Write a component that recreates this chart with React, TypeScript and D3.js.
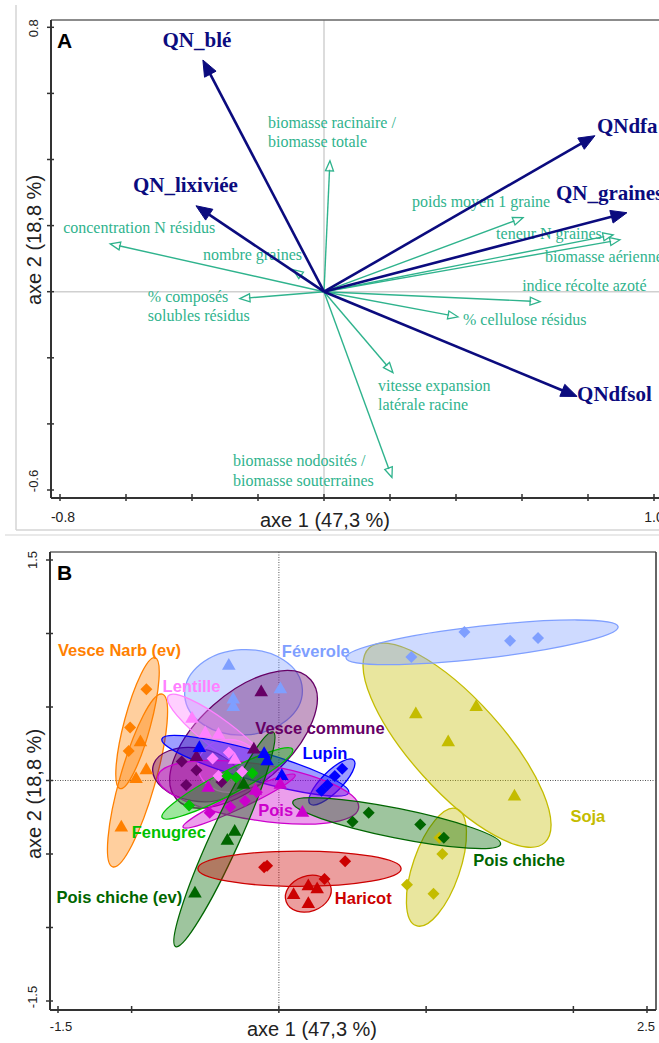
import * as d3 from 'd3';

// ---------- Panel A : variable loadings on axes 1 / 2 ----------
const mainVars = ['QN_blé', 'QN_lixiviée', 'QNdfa', 'QN_graines', 'QNdfsol'];
const mainX = [-0.367, -0.388, 0.821, 0.918, 0.767];
const mainY = [0.701, 0.26, 0.472, 0.239, -0.317];

const suppVars = [
  ['concentration N résidus'],
  ['nombre graines'],
  ['% composés', 'solubles résidus'],
  ['biomasse racinaire /', 'biomasse totale'],
  ['poids moyen 1 graine'],
  ['teneur N graines'],
  ['biomasse aérienne'],
  ['indice récolte azoté'],
  ['% cellulose résidus'],
  ['vitesse expansion', 'latérale racine'],
  ['biomasse nodosités /', 'biomasse souterraines'],
];
const suppX = [-0.648, -0.094, -0.255, 0.018, 0.603, 0.876, 0.897, 0.655, 0.406, 0.209, 0.206];
const suppY = [0.145, 0.067, -0.021, 0.396, 0.224, 0.172, 0.157, -0.03, -0.076, -0.245, -0.562];

const ticksA_x = d3.range(-0.8, 1.01, 0.2);
const ticksA_y = d3.range(-0.6, 0.81, 0.2);

// label placement (px offsets from arrow tip)
const mainLabelOff: [number, number, string][] = [
  [-6, -13, 'middle'], [-63, -14, 'start'], [2, -3, 'start'], [-71, -13, 'start'], [0, 5, 'start'],
];
const suppLabelOff: [number, number][] = [
  [-47, -11], [-90, -10], [-92, 3], [-62, -33], [-111, -11], [-117, 4],
  [-75, 22], [-18, -11], [5, 8], [-15, 18], [-159, -11],
];

// ---------- Panel B : individuals by species ----------
const classNames = ['Féverole', 'Soja', 'Vesce Narb (ev)', 'Vesce commune', 'Lentille', 'Lupin',
  'Pois', 'Fenugrec', 'Pois chiche (ev)', 'Pois chiche', 'Haricot'];
const classColors = ['#7f9fff', '#c4bc00', '#ff8000', '#660066', '#ff80ff', '#0000ff',
  '#cc00cc', '#00c000', '#006600', '#006600', '#cc0000'];

const feveroleTri = [[-0.34, 0.78], [-0.31, 0.55], [-0.31, 0.5], [0.01, 0.62]];
const feveroleDia = [[0.9, 0.84], [1.26, 1.01], [1.57, 0.95], [1.76, 0.97]];
const sojaTri = [[0.93, 0.45], [1.34, 0.5], [1.15, 0.26], [1.6, -0.11]];
const sojaDia = [[1.09, -0.39], [1.11, -0.5], [0.87, -0.71], [1.05, -0.77]];
const narbTri = [[-0.94, 0.26], [-0.9, 0.07], [-0.97, 0.01], [-1.07, -0.32]];
const narbDia = [[-0.9, 0.62], [-1.01, 0.36], [-1.02, 0.2]];
const communeTri = [[-0.12, 0.6], [-0.17, 0.21], [-0.56, 0.16]];
const communeDia = [[-0.66, 0.13], [-0.56, 0.07], [-0.63, -0.03], [-0.39, -0.01]];
const lentilleTri = [[-0.59, 0.42], [-0.5, 0.32], [-0.41, 0.31], [-0.3, 0.14]];
const lentilleDia = [[-0.45, 0.15], [-0.34, 0.19], [-0.41, 0.03], [-0.25, 0.06]];
const lupinTri = [[-0.54, 0.22], [-0.1, 0.18], [-0.08, 0.13], [0.02, 0.03]];
const lupinDia = [[0.43, 0.08], [0.38, 0.03], [0.33, -0.03], [0.29, -0.07]];
const poisTri = [[-0.48, -0.05], [-0.16, -0.07], [0.01, -0.03], [0.16, -0.22]];
const poisDia = [[-0.47, -0.22], [-0.33, -0.18], [-0.23, -0.14], [-0.15, -0.08]];
const fenugrecDia = [[-0.61, -0.17], [-0.35, 0.03], [-0.29, 0.02], [-0.18, 0.05]];
const chicheEvTri = [[-0.57, -0.77], [-0.35, -0.41], [-0.3, -0.35], [-0.24, -0.03]];
const chicheDia = [[0.5, -0.28], [0.61, -0.22], [0.96, -0.3], [1.12, -0.39]];
const haricotTri = [[0.1, -0.78], [0.2, -0.72], [0.26, -0.74], [0.2, -0.84]];
const haricotDia = [[-0.1, -0.59], [-0.08, -0.58], [0.45, -0.55], [0.31, -0.67]];

// [class, cx, cy, semi-axis a, semi-axis b, angle deg]
const ellipses: number[][] = [
  [0, -0.24, 0.6, 0.4, 0.29, 3],
  [1, 1.21, 0.24, 0.89, 0.31, -48],
  [0, 1.38, 0.94, 0.93, 0.11, 6.5],
  [1, 1.07, -0.59, 0.42, 0.16, 71],
  [2, -0.96, 0.39, 0.46, 0.09, 75],
  [2, -0.96, 0.0, 0.61, 0.12, 74],
  [3, -0.24, 0.28, 0.61, 0.31, 41.6],
  [3, -0.56, 0.04, 0.3, 0.18, -10],
  [4, -0.4, 0.31, 0.44, 0.1, -37],
  [4, -0.34, 0.1, 0.21, 0.18, 0],
  [5, -0.16, 0.1, 0.66, 0.1, -16],
  [5, 0.36, -0.01, 0.21, 0.07, 45],
  [6, -0.14, -0.08, 0.69, 0.19, -9],
  [6, -0.27, -0.14, 0.42, 0.05, 25],
  [7, -0.35, -0.02, 0.5, 0.08, 27.6],
  [8, -0.37, -0.4, 0.8, 0.1, 65.6],
  [9, 0.8, -0.29, 0.72, 0.1, -11.4],
  [10, 0.14, -0.6, 0.69, 0.12, 0],
  [10, 0.2, -0.77, 0.16, 0.12, 20],
];

const classPoints: [number, string, number[][]][] = [
  [0, 'tri', feveroleTri], [0, 'dia', feveroleDia],
  [1, 'tri', sojaTri], [1, 'dia', sojaDia],
  [2, 'tri', narbTri], [2, 'dia', narbDia],
  [3, 'tri', communeTri], [3, 'dia', communeDia],
  [4, 'tri', lentilleTri], [4, 'dia', lentilleDia],
  [5, 'tri', lupinTri], [5, 'dia', lupinDia],
  [6, 'tri', poisTri], [6, 'dia', poisDia],
  [7, 'dia', fenugrecDia],
  [8, 'tri', chicheEvTri],
  [9, 'dia', chicheDia],
  [10, 'tri', haricotTri], [10, 'dia', haricotDia],
];

// label anchors (data units, start of text / vertical centre)
const classLabelAt = [
  [0.02, 0.88], [1.98, -0.24], [-1.5, 0.89], [-0.16, 0.36], [-0.79, 0.64], [0.16, 0.19],
  [-0.14, -0.2], [-1.0, -0.35], [-1.51, -0.79], [1.32, -0.54], [0.38, -0.8],
];

const ticksB_x = [-1.5, -1, 0, 1, 2, 2.5];
const ticksB_y = d3.range(-1.5, 1.51, 0.5);

const SERIF = '"Liberation Serif", "Times New Roman", serif';
const SANS = '"Liberation Sans", Arial, sans-serif';
const NAVY = '#0b0b7e';
const TEAL = '#2fb38d';

function Arrow({ x1, y1, x2, y2, color, width, hl, hw, open }: any) {
  const dx = x2 - x1, dy = y2 - y1;
  const len = Math.hypot(dx, dy);
  const ux = dx / len, uy = dy / len;
  const bx = x2 - ux * hl, by = y2 - uy * hl;
  const nx = -uy, ny = ux;
  const pts = `${x2},${y2} ${bx + nx * hw / 2},${by + ny * hw / 2} ${bx - nx * hw / 2},${by - ny * hw / 2}`;
  return (
    <g>
      <line x1={x1} y1={y1} x2={bx + ux} y2={by + uy} stroke={color} strokeWidth={width} />
      <polygon points={pts} fill={open ? 'none' : color} stroke={color} strokeWidth={open ? 1.3 : 1} strokeLinejoin="miter" />
    </g>
  );
}

export default function App() {
  const xA = d3.scaleLinear().domain([-0.8, 1.0]).range([60, 654]);
  const yA = d3.scaleLinear().domain([-0.6, 0.8]).range([490, 27.3]);
  const xB = d3.scaleLinear().domain([-1.5, 2.5]).range([58, 647]);
  const yB = d3.scaleLinear().domain([-1.5, 1.5]).range([1001, 560]);
  const k = xB(1) - xB(0);
  const tri = d3.symbol(d3.symbolTriangle, 80)() as string;
  const sq = d3.symbol(d3.symbolSquare, 72)() as string;

  return (
    <svg width={659} height={1043} style={{ position: 'absolute', left: 0, top: 0, background: '#fff' }}>
      {/* ===== Panel A ===== */}
      <line x1={16} y1={5} x2={16} y2={530} stroke="#d4d4d4" strokeWidth={1.5} />
      <line x1={16} y1={530} x2={659} y2={530} stroke="#d4d4d4" strokeWidth={1.5} />
      <line x1={5} y1={535} x2={659} y2={535} stroke="#e2e2e2" strokeWidth={1.5} />

      <line x1={xA(0)} x2={xA(0)} y1={20} y2={498} stroke="#d0d0d0" strokeWidth={1.5} />
      <line x1={51} x2={659} y1={yA(0)} y2={yA(0)} stroke="#d0d0d0" strokeWidth={1.5} />
      <line x1={51} x2={659} y1={20} y2={20} stroke="#666" strokeWidth={1.5} />
      <line x1={51} x2={51} y1={20} y2={498} stroke="#333" strokeWidth={2} />
      <line x1={51} x2={659} y1={498} y2={498} stroke="#333" strokeWidth={2} />
      {ticksA_x.map((t, i) => (
        <line key={i} x1={xA(t)} x2={xA(t)} y1={494} y2={501} stroke="#333" strokeWidth={1.5} />
      ))}
      {ticksA_y.map((t, i) => (
        <line key={i} x1={47} x2={54} y1={yA(t)} y2={yA(t)} stroke="#333" strokeWidth={1.5} />
      ))}
      <text x={xA(-0.8) + 3} y={522} textAnchor="middle" fontFamily={SANS} fontSize={14} fill="#222">-0.8</text>
      <text x={xA(1.0)} y={522} textAnchor="middle" fontFamily={SANS} fontSize={14} fill="#222">1.0</text>
      <text x={325} y={527} textAnchor="middle" fontFamily={SANS} fontSize={20} fill="#222">axe 1 (47,3 %)</text>
      <text transform={`translate(38,${yA(0.8) + 1}) rotate(-90)`} textAnchor="middle" fontFamily={SANS} fontSize={13} fill="#222">0.8</text>
      <text transform={`translate(38,${yA(-0.6) - 9}) rotate(-90)`} textAnchor="middle" fontFamily={SANS} fontSize={13} fill="#222">-0.6</text>
      <text transform="translate(41,240) rotate(-90)" textAnchor="middle" fontFamily={SANS} fontSize={20} fill="#222">axe 2 (18,8 %)</text>
      <text x={57} y={48} fontFamily={SANS} fontSize={21} fontWeight="bold" fill="#000">A</text>

      {suppVars.map((lines, i) => {
        const tx = xA(suppX[i]), ty = yA(suppY[i]);
        const [ox, oy] = suppLabelOff[i];
        return (
          <g key={'s' + i}>
            <Arrow x1={xA(0)} y1={yA(0)} x2={tx} y2={ty} color={TEAL} width={1.4} hl={10} hw={8} open />
            <text fontFamily={SERIF} fontSize={16} fill={TEAL}>
              {lines.map((l, j) => (
                <tspan key={j} x={tx + ox} y={ty + oy + j * 19.5}>{l}</tspan>
              ))}
            </text>
          </g>
        );
      })}
      {mainVars.map((v, i) => {
        const tx = xA(mainX[i]), ty = yA(mainY[i]);
        const [ox, oy, anchor] = mainLabelOff[i];
        return (
          <g key={'m' + i}>
            <Arrow x1={xA(0)} y1={yA(0)} x2={tx} y2={ty} color={NAVY} width={2.6} hl={16} hw={13} />
            <text x={tx + ox} y={ty + oy} textAnchor={anchor} fontFamily={SERIF} fontSize={21} fontWeight="bold" fill={NAVY}>{v}</text>
          </g>
        );
      })}

      {/* ===== Panel B ===== */}
      <line x1={50} x2={656} y1={552} y2={552} stroke="#666" strokeWidth={1.5} />
      <line x1={656} x2={656} y1={552} y2={1010} stroke="#333" strokeWidth={1.5} />
      <line x1={xB(0)} x2={xB(0)} y1={552} y2={1010} stroke="#555" strokeWidth={1} strokeDasharray="1,1.5" />
      <line x1={50} x2={656} y1={yB(0)} y2={yB(0)} stroke="#555" strokeWidth={1} strokeDasharray="1,1.5" />

      {ellipses.map(([c, cx, cy, a, b, ang], i) => {
        const px = xB(cx), py = yB(cy);
        return (
          <ellipse key={'e' + i} cx={px} cy={py} rx={a * k} ry={b * k}
            transform={`rotate(${-ang},${px},${py})`}
            fill={classColors[c]} fillOpacity={0.38} stroke={classColors[c]} strokeWidth={1.3} />
        );
      })}
      {classPoints.map(([c, shape, pts], i) => (
        <g key={'p' + i} fill={classColors[c]}>
          {pts.map(([x, y], j) => (
            <path key={j} d={shape === 'tri' ? tri : sq}
              transform={shape === 'tri' ? `translate(${xB(x)},${yB(y)})` : `translate(${xB(x)},${yB(y)}) rotate(45)`} />
          ))}
        </g>
      ))}
      {classNames.map((n, i) => (
        <text key={'l' + i} x={xB(classLabelAt[i][0])} y={yB(classLabelAt[i][1])} dy="0.36em"
          fontFamily={SANS} fontSize={16.5} fontWeight="bold" fill={classColors[i]}>{n}</text>
      ))}

      <line x1={50} x2={50} y1={552} y2={1010} stroke="#333" strokeWidth={2} />
      <line x1={50} x2={656} y1={1010} y2={1010} stroke="#333" strokeWidth={2} />
      {ticksB_x.map((t, i) => (
        <line key={i} x1={xB(t)} x2={xB(t)} y1={1006} y2={1013} stroke="#333" strokeWidth={1.5} />
      ))}
      {ticksB_y.map((t, i) => (
        <line key={i} x1={46} x2={53} y1={yB(t)} y2={yB(t)} stroke="#333" strokeWidth={1.5} />
      ))}
      <text x={xB(-1.5) + 3} y={1031} textAnchor="middle" fontFamily={SANS} fontSize={13} fill="#222">-1.5</text>
      <text x={xB(2.5) - 1} y={1031} textAnchor="middle" fontFamily={SANS} fontSize={13} fill="#222">2.5</text>
      <text x={312} y={1036} textAnchor="middle" fontFamily={SANS} fontSize={20} fill="#222">axe 1 (47,3 %)</text>
      <text transform={`translate(37,${yB(1.5)}) rotate(-90)`} textAnchor="middle" fontFamily={SANS} fontSize={13} fill="#222">1.5</text>
      <text transform={`translate(37,${yB(-1.5) - 4}) rotate(-90)`} textAnchor="middle" fontFamily={SANS} fontSize={13} fill="#222">-1.5</text>
      <text transform="translate(41,794) rotate(-90)" textAnchor="middle" fontFamily={SANS} fontSize={20} fill="#222">axe 2 (18,8 %)</text>
      <text x={57} y={580} fontFamily={SANS} fontSize={21} fontWeight="bold" fill="#000">B</text>
    </svg>
  );
}
